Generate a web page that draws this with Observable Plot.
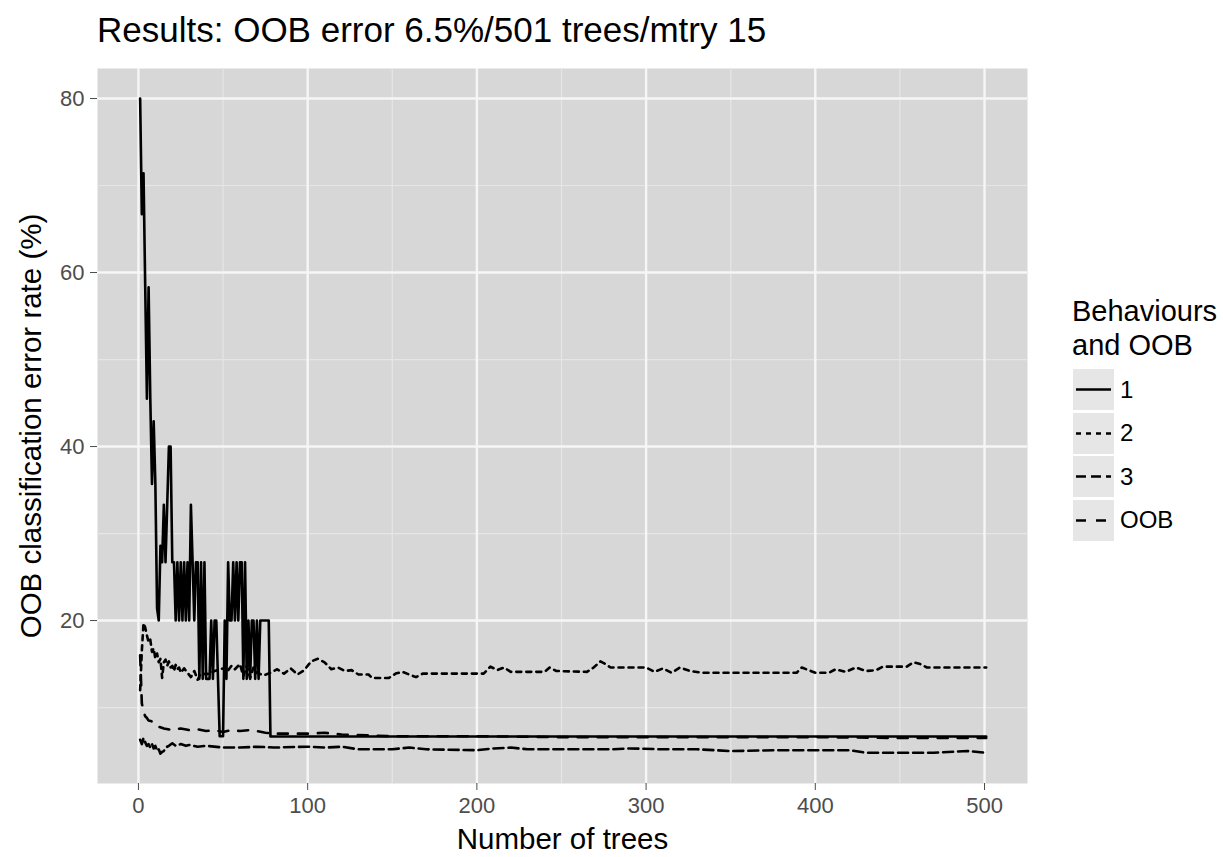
<!DOCTYPE html>
<html>
<head>
<meta charset="utf-8">
<script src="https://cdn.jsdelivr.net/npm/d3@7"></script>
<script src="https://cdn.jsdelivr.net/npm/@observablehq/plot@0.6"></script>
<style>
  html, body { margin: 0; padding: 0; background: #fff; }
  body { width: 1223px; height: 857px; position: relative; overflow: hidden; font-family: "Liberation Sans", Arial, sans-serif; }
  #chart { position: absolute; left: 0; top: 0; }
  #title { position: absolute; left: 97px; top: 10px; font-size: 35px; color: #000; white-space: nowrap; }
  #legend { position: absolute; left: 1072px; top: 294px; color: #000; }
  #legend .lt { font-size: 29px; line-height: 34px; white-space: nowrap; }
  #legend .row { display: flex; align-items: center; height: 43.5px; }
  #legend .lab { font-size: 24px; margin-left: 5px; }
</style>
</head>
<body>
<div id="chart"></div>
<div id="title">Results: OOB error 6.5%/501 trees/mtry 15</div>
<div id="legend"></div>
<script>
// ---- data ----
const seriesNames = ["1", "2", "3", "OOB"];
const xTicks = [0, 100, 200, 300, 400, 500];
const yTicks = [20, 40, 60, 80];

// Behaviour 1 : [tree, error %]
const err1 = [[1,80],[2,66.7],[3,71.4],[4,58.3],[5,45.5],[6,58.3],[7,45.5],[8,35.7],[9,42.9],[10,35.7],
  [11,21.4],[12,20],[13,28.6],[14,26.7],[15,33.3],[16,26.7],[17,33.3],[18,40],[19,40],[20,26.7],
  [21,26.7],[22,20],[23,26.7],[24,20],[25,26.7],[26,20],[27,26.7],[28,20],[29,26.7],[30,20],
  [31,33.3],[32,26.7],[33,20],[34,26.7],[35,26.7],[36,13.3],[37,26.7],[38,13.3],[39,26.7],[40,13.3],
  [41,13.3],[42,13.3],[43,20],[44,13.3],[45,20],[46,20],[47,13.3],[48,6.7],[49,6.7],[50,6.7],
  [51,20],[52,13.3],[53,26.7],[54,20],[55,20],[56,26.7],[57,20],[58,26.7],[59,20],[60,26.7],
  [61,26.7],[62,13.3],[63,26.7],[64,13.3],[65,20],[66,13.3],[67,20],[68,20],[69,13.3],[70,20],
  [71,13.3],[72,20],[73,20],[74,20],[75,20],[76,20],[77,20],[78,6.67],[501,6.67]];

// Behaviour 2
const err2 = [[1,12],[2,16.5],[3,19.7],[4,19.2],[5,18.3],[6,17.5],[7,17.8],[8,16.4],[9,16.8],[10,15.6],
  [11,16.2],[12,15.2],[13,15.6],[14,13.4],[15,15.2],[16,15.5],[17,14.8],[18,15.3],[19,14.6],[20,14.8],
  [21,14.2],[22,14.9],[23,14.4],[24,14.6],[25,14.0],[27,14.5],[29,14.0],[31,13.5],[33,14.2],[35,13.2],
  [37,14.0],[40,13.8],[45,14.2],[50,14.5],[52,14.0],[55,14.8],[57,14.4],[60,15.0],[62,13.6],[64,14.8],
  [66,13.4],[68,14.6],[70,14.0],[74,13.7],[78,14.0],[82,14.4],[86,13.9],[90,14.5],[94,13.8],[98,14.3],
  [102,15.3],[106,15.6],[110,15.2],[114,14.4],[118,14.6],[122,14.2],[126,14.3],[130,13.8],[136,13.8],[138,13.4],
  [148,13.4],[152,13.9],[156,14.1],[160,13.8],[164,13.5],[168,13.9],[204,13.9],[208,14.7],[212,14.3],[216,14.6],
  [220,14.1],[240,14.1],[243,14.6],[247,14.2],[265,14.1],[269,14.6],[273,15.3],[276,15.0],[279,14.6],[300,14.6],
  [305,14.1],[310,14.5],[315,14.0],[320,14.6],[326,14.2],[333,14.0],[389,14.0],[392,14.6],[396,14.3],[400,14.0],
  [408,14.0],[412,14.4],[418,14.1],[424,14.6],[430,14.2],[436,14.3],[440,14.7],[454,14.7],[458,15.2],[462,15.0],
  [466,14.6],[501,14.6]];

// Behaviour 3
const err3 = [[1,6.3],[2,5.8],[3,6.5],[4,6.0],[5,5.6],[6,5.8],[7,5.4],[8,5.8],[9,5.3],[10,5.6],
  [11,5.0],[12,5.2],[13,4.7],[14,4.9],[15,5.0],[16,5.4],[18,5.6],[20,5.9],[22,5.6],[25,5.8],
  [28,5.6],[30,5.7],[35,5.5],[40,5.6],[50,5.4],[60,5.4],[70,5.5],[80,5.4],[100,5.5],[110,5.4],
  [120,5.5],[130,5.2],[150,5.2],[160,5.4],[170,5.2],[200,5.1],[210,5.3],[220,5.4],[230,5.2],[280,5.2],
  [290,5.3],[310,5.2],[330,5.2],[350,5.0],[380,5.1],[420,5.1],[430,4.8],[470,4.8],[490,5.0],[501,4.8]];

// Overall OOB
const errOOB = [[1,16],[2,10.5],[3,9.5],[4,9],[5,8.8],[6,8.5],[8,8.4],[10,8],[12,7.8],[15,7.6],
  [20,7.4],[25,7.6],[30,7.4],[35,7.5],[40,7.3],[45,7.4],[50,7.2],[55,7.4],[60,7.3],[65,7.4],
  [70,7.3],[75,7.1],[80,7.0],[100,7.0],[110,7.1],[120,6.9],[150,6.7],[200,6.7],[250,6.6],[300,6.6],
  [400,6.6],[450,6.5],[501,6.5]];

const dashes = {"1": null, "2": "5,5", "3": "10,5", "OOB": "10,10"};
const seriesData = {"1": err1, "2": err2, "3": err3, "OOB": errOOB};

// ---- chart ----
const lineW = 2.6;
const toRows = (arr, s) => arr.map(([t, v]) => ({tree: t, err: v, series: s}));

const majorX = xTicks;
const minorX = [50, 150, 250, 350, 450];
const majorY = yTicks;
const minorY = [10, 30, 50, 70];

const lineMarks = seriesNames.map(s => Plot.line(toRows(seriesData[s], s), {
  x: "tree", y: "err", stroke: "#000", strokeWidth: lineW,
  strokeDasharray: dashes[s] || undefined, strokeLinejoin: "round"
}));

const chart = Plot.plot({
  width: 1040,
  height: 857,
  marginLeft: 97,
  marginRight: 13,
  marginTop: 68,
  marginBottom: 74,
  style: {fontFamily: "Liberation Sans, Arial, sans-serif", background: "transparent", overflow: "visible"},
  x: {domain: [-24.2, 525.4]},
  y: {domain: [1.27, 83.45]},
  marks: [
    Plot.frame({fill: "#d7d7d7", stroke: null}),
    Plot.ruleX(minorX, {stroke: "#e6e6e6", strokeWidth: 1.2}),
    Plot.ruleY(minorY, {stroke: "#e6e6e6", strokeWidth: 1.2}),
    Plot.ruleX(majorX, {stroke: "#f6f6f6", strokeWidth: 2.4}),
    Plot.ruleY(majorY, {stroke: "#f6f6f6", strokeWidth: 2.4}),
    ...lineMarks,
    Plot.axisX({ticks: xTicks, tickSize: 7, tickPadding: 7, fontSize: 22, color: "#4d4d4d", label: null}),
    Plot.axisY({ticks: yTicks, tickSize: 7, tickPadding: 6, fontSize: 22, color: "#4d4d4d", label: null}),
    Plot.text(["Number of trees"], {frameAnchor: "bottom", dy: 56, fontSize: 29.5, fill: "#000", textAnchor: "middle", lineAnchor: "middle"}),
    Plot.text(["OOB classification error rate (%)"], {frameAnchor: "left", dx: -66, rotate: -90, fontSize: 29.5, fill: "#000", textAnchor: "middle", lineAnchor: "middle"})
  ]
});
document.getElementById("chart").appendChild(chart);

// ---- legend ----
const legend = document.getElementById("legend");
legend.innerHTML = '<div class="lt">Behaviours</div><div class="lt">and OOB</div><div style="height:6px"></div>';
const ns = "http://www.w3.org/2000/svg";
for (const s of seriesNames) {
  const row = document.createElement("div");
  row.className = "row";
  const svg = document.createElementNS(ns, "svg");
  svg.setAttribute("width", 43); svg.setAttribute("height", 43);
  const rect = document.createElementNS(ns, "rect");
  rect.setAttribute("x", 0); rect.setAttribute("y", 0); rect.setAttribute("width", 43); rect.setAttribute("height", 43);
  rect.setAttribute("fill", "#e6e6e6"); rect.setAttribute("stroke", "#fff"); rect.setAttribute("stroke-width", 2);
  svg.appendChild(rect);
  const ln = document.createElementNS(ns, "line");
  ln.setAttribute("x1", 4); ln.setAttribute("x2", 39); ln.setAttribute("y1", 21.5); ln.setAttribute("y2", 21.5);
  ln.setAttribute("stroke", "#000"); ln.setAttribute("stroke-width", lineW);
  if (dashes[s]) ln.setAttribute("stroke-dasharray", dashes[s]);
  svg.appendChild(ln);
  row.appendChild(svg);
  const lab = document.createElement("span");
  lab.className = "lab"; lab.textContent = s;
  row.appendChild(lab);
  legend.appendChild(row);
}
</script>
</body>
</html>
